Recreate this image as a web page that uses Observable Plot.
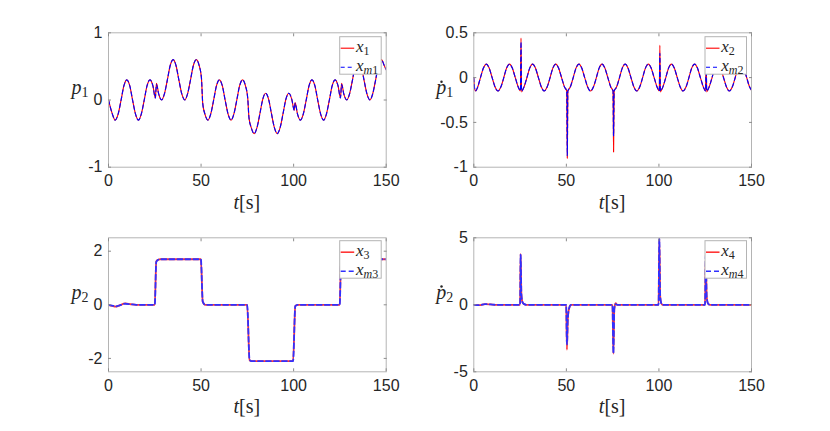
<!DOCTYPE html>
<html>
<head>
<meta charset="utf-8">
<script src="https://cdn.jsdelivr.net/npm/d3@7"></script>
<script src="https://cdn.jsdelivr.net/npm/@observablehq/plot@0.6"></script>
<style>
  html, body { margin: 0; padding: 0; background: #fff; }
  #wrap { position: relative; width: 830px; height: 431px; background: #fff; overflow: hidden; }
</style>
</head>
<body>
<div id="wrap"></div>
<script>
// ---------------- data ----------------
const xTicks = [0, 50, 100, 150];

// panel 1: p1
const t1 = [0,2.1,3.6,5.2,6.8,8.3,9.9,11.5,13.0,14.6,16.2,17.7,19.3,20.8,22.4,24.0,25.3,25.9,27.1,28.7,30.2,31.8,33.3,34.9,36.5,38.0,39.6,41.2,42.7,44.3,45.8,47.4,49.0,50.2,50.9,52.1,53.7,55.2,56.8,58.3,59.9,61.5,63.0,64.6,66.2,67.7,69.3,70.8,72.4,74.0,75.2,75.9,77.1,78.7,80.2,81.8,83.3,84.9,86.5,88.0,89.6,91.2,92.7,94.3,95.8,97.4,99.0,100.3,100.8,102.1,103.7,105.2,106.8,108.3,109.9,111.5,113.0,114.6,116.2,117.7,119.3,120.8,122.4,124.0,125.3,125.9,127.1,128.7,130.2,131.8,133.3,134.9,136.5,138.0,139.6,141.2,142.7,144.3,145.8,147.4,149.0,150.0];
const x1 = [0,-0.21,-0.30,-0.21,0,0.21,0.30,0.21,0,-0.21,-0.30,-0.21,0,0.21,0.30,0.21,0.03,0.25,0.09,0.00,0.09,0.30,0.51,0.60,0.51,0.30,0.09,0.00,0.09,0.30,0.51,0.60,0.51,0.33,-0.05,-0.21,-0.30,-0.21,0,0.21,0.30,0.21,0,-0.21,-0.30,-0.21,0,0.21,0.30,0.21,0.03,-0.27,-0.41,-0.50,-0.41,-0.20,0.01,0.10,0.01,-0.20,-0.41,-0.50,-0.41,-0.20,0.01,0.10,0.01,-0.15,-0.04,-0.21,-0.30,-0.21,0,0.21,0.30,0.21,0,-0.21,-0.30,-0.21,0,0.21,0.30,0.21,0.03,0.25,0.09,0.00,0.09,0.30,0.51,0.60,0.51,0.30,0.09,0.00,0.09,0.30,0.51,0.60,0.51,0.45];
const xm1 = [0,-0.21,-0.30,-0.21,0,0.21,0.30,0.21,0,-0.21,-0.30,-0.21,0,0.21,0.30,0.21,0.03,0.23,0.09,0.00,0.09,0.30,0.51,0.60,0.51,0.30,0.09,0.00,0.09,0.30,0.51,0.60,0.51,0.33,-0.05,-0.21,-0.30,-0.21,0,0.21,0.30,0.21,0,-0.21,-0.30,-0.21,0,0.21,0.30,0.21,0.03,-0.27,-0.41,-0.50,-0.41,-0.20,0.01,0.10,0.01,-0.20,-0.41,-0.50,-0.41,-0.20,0.01,0.10,0.01,-0.15,-0.05,-0.21,-0.30,-0.21,0,0.21,0.30,0.21,0,-0.21,-0.30,-0.21,0,0.21,0.30,0.21,0.03,0.23,0.09,0.00,0.09,0.30,0.51,0.60,0.51,0.30,0.09,0.00,0.09,0.30,0.51,0.60,0.51,0.45];

// panel 2: p1 dot
const t2 = [0,0.5,1.0,2.1,3.6,5.2,6.8,8.3,9.9,11.5,13.0,14.6,16.2,17.7,19.3,20.8,22.4,24.0,25.2,25.5,25.8,26.3,27.1,28.7,30.2,31.8,33.3,34.9,36.5,38.0,39.6,41.2,42.7,44.3,45.8,47.4,49.0,50.2,50.5,50.8,52.1,53.7,55.2,56.8,58.3,59.9,61.5,63.0,64.6,66.2,67.7,69.3,70.8,72.4,74.0,75.2,75.5,75.8,77.1,78.7,80.2,81.8,83.3,84.9,86.5,88.0,89.6,91.2,92.7,94.3,95.8,97.4,99.0,100.2,100.5,100.8,101.3,102.1,103.7,105.2,106.8,108.3,109.9,111.5,113.0,114.6,116.2,117.7,119.3,120.8,122.4,124.0,125.2,125.5,125.8,126.3,127.1,128.7,130.2,131.8,133.3,134.9,136.5,138.0,139.6,141.2,142.7,144.3,145.8,147.4,149.0,150.0];
const x2 = [0,-0.13,-0.148,-0.106,0,0.106,0.15,0.106,0,-0.106,-0.15,-0.106,0,0.106,0.15,0.106,0,-0.106,-0.148,0.44,-0.16,-0.14,-0.106,0,0.106,0.15,0.106,0,-0.106,-0.15,-0.106,0,0.106,0.15,0.106,0,-0.106,-0.148,-0.90,-0.15,-0.106,0,0.106,0.15,0.106,0,-0.106,-0.15,-0.106,0,0.106,0.15,0.106,0,-0.106,-0.148,-0.83,-0.15,-0.106,0,0.106,0.15,0.106,0,-0.106,-0.15,-0.106,0,0.106,0.15,0.106,0,-0.106,-0.148,0.36,-0.16,-0.14,-0.106,0,0.106,0.15,0.106,0,-0.106,-0.15,-0.106,0,0.106,0.15,0.106,0,-0.106,-0.148,0.30,-0.16,-0.14,-0.106,0,0.106,0.15,0.106,0,-0.106,-0.15,-0.106,0,0.106,0.15,0.106,0,-0.106,-0.14];
const xm2 = [0,-0.13,-0.148,-0.106,0,0.106,0.15,0.106,0,-0.106,-0.15,-0.106,0,0.106,0.15,0.106,0,-0.106,-0.148,0.40,-0.15,-0.14,-0.106,0,0.106,0.15,0.106,0,-0.106,-0.15,-0.106,0,0.106,0.15,0.106,0,-0.106,-0.148,-0.87,-0.15,-0.106,0,0.106,0.15,0.106,0,-0.106,-0.15,-0.106,0,0.106,0.15,0.106,0,-0.106,-0.148,-0.65,-0.15,-0.106,0,0.106,0.15,0.106,0,-0.106,-0.15,-0.106,0,0.106,0.15,0.106,0,-0.106,-0.148,0.27,-0.15,-0.14,-0.106,0,0.106,0.15,0.106,0,-0.106,-0.15,-0.106,0,0.106,0.15,0.106,0,-0.106,-0.148,0.25,-0.15,-0.14,-0.106,0,0.106,0.15,0.106,0,-0.106,-0.15,-0.106,0,0.106,0.15,0.106,0,-0.106,-0.14];

// panel 3: p2
const t3 = [0,2.0,3.8,6.0,9.0,12.0,15.0,25.0,25.8,26.8,28.0,49.9,50.9,52.3,74.9,76.2,77.2,99.7,100.9,102.0,124.9,125.6,126.6,150];
const x3 = [0,-0.04,-0.07,-0.02,0.05,0.02,0,0,1.62,1.68,1.70,1.70,0.12,0,0,-2.07,-2.10,-2.10,-0.05,0,0,1.65,1.70,1.70];
const xm3 = [0,-0.03,-0.06,-0.02,0.04,0.02,0,0,1.60,1.68,1.70,1.70,0.12,0,0,-2.06,-2.10,-2.10,-0.05,0,0,1.64,1.70,1.70];

// panel 4: p2 dot
const t4 = [0,3,6,9,12,25.0,25.3,25.7,26.3,27.2,28.5,49.9,50.3,50.8,51.5,52.5,74.9,75.4,75.9,76.6,77.5,99.8,100.2,100.7,101.3,102.0,124.9,125.3,125.8,126.5,127.5,150];
const x4 = [0,-0.03,0.05,0.03,0,0,3.80,0.8,0.2,0.05,0,0,-3.35,-1.0,-0.25,0,0,-3.65,-0.3,0.12,0,0,4.93,0.6,0.1,0,0,3.72,0.6,0.1,0,0];
const xm4 = [0,-0.03,0.05,0.03,0,0,3.75,0.8,0.2,0.05,0,0,-2.95,-1.0,-0.25,0,0,-3.62,-0.3,0.05,0,0,4.90,0.6,0.1,0,0,3.70,0.6,0.1,0,0];

// legend labels & axis labels
const legendA = ["1", "2", "3", "4"];
const legendB = ["m1", "m2", "m3", "m4"];
const yLabelSub = ["1", "1", "2", "2"];
const yLabelDot = [false, true, false, true];

// ---------------- layout ----------------
const wrap = document.getElementById("wrap");
const RED = "#ff0000", BLUE = "#0000ff";

const panels = [
  {t: t1, a: x1, b: xm1, yDomain: [-1, 1], yTicks: [-1, 0, 1],
   left: 0, top: 0, w: 415, h: 215, mL: 108, mR: 29.3, mT: 32.3, mB: 48.3, thick: false},
  {t: t2, a: x2, b: xm2, yDomain: [-1, 0.5], yTicks: [-1, -0.5, 0, 0.5],
   left: 415, top: 0, w: 415, h: 215, mL: 58.3, mR: 79, mT: 32.3, mB: 48.3, thick: false},
  {t: t3, a: x3, b: xm3, yDomain: [-2.5, 2.5], yTicks: [-2, 0, 2],
   left: 0, top: 215, w: 415, h: 216, mL: 108, mR: 29.3, mT: 22.3, mB: 59.7, thick: true},
  {t: t4, a: x4, b: xm4, yDomain: [-5, 5], yTicks: [-5, 0, 5],
   left: 415, top: 215, w: 415, h: 216, mL: 58.3, mR: 79, mT: 22.3, mB: 59.7, thick: true}
];

const FRAME = "#b4b4b4", TICK = "#8c8c8c", TXT = "#262626";

panels.forEach((p) => {
  const data = p.t.map((t, i) => ({t, a: p.a[i], b: p.b[i]}));
  const sw = p.thick ? 1.8 : 1.15;
  const svg = Plot.plot({
    width: p.w, height: p.h,
    marginLeft: p.mL, marginRight: p.mR, marginTop: p.mT, marginBottom: p.mB,
    style: {fontFamily: "'Liberation Sans', Arial, Helvetica, sans-serif", fontSize: "16px", color: TXT, background: "transparent", overflow: "visible"},
    x: {domain: [0, 150]},
    y: {domain: p.yDomain},
    marks: [
      Plot.line(data, {x: "t", y: "a", stroke: p.thick ? "#ff3535" : RED, strokeWidth: sw, curve: "monotone-x", clip: true}),
      Plot.line(data, {x: "t", y: "b", stroke: p.thick ? "#3030ff" : BLUE, strokeWidth: sw, strokeDasharray: p.thick ? "5,3" : "4,3", curve: "monotone-x", clip: true}),
      Plot.frame({stroke: FRAME, strokeWidth: 1}),
      Plot.axisX(xTicks, {anchor: "bottom", tickSize: 3, dy: -3, fill: "none", stroke: TICK, label: null}),
      Plot.axisX(xTicks, {anchor: "top", tickSize: 3, dy: 3, fill: "none", stroke: TICK, label: null}),
      Plot.axisY(p.yTicks, {anchor: "left", tickSize: 3, dx: 3, fill: "none", stroke: TICK, label: null}),
      Plot.axisY(p.yTicks, {anchor: "right", tickSize: 3, dx: -3, fill: "none", stroke: TICK, label: null}),
      Plot.axisX(xTicks, {anchor: "bottom", tickSize: 0, tickPadding: 7.5, label: null, fontSize: 16, fill: TXT, tickFormat: (d) => String(d)}),
      Plot.axisY(p.yTicks, {anchor: "left", tickSize: 0, tickPadding: 6, label: null, fontSize: 16, fill: TXT, tickFormat: (d) => String(d)})
    ]
  });
  svg.style.position = "absolute";
  svg.style.left = p.left + "px";
  svg.style.top = p.top + "px";
  wrap.appendChild(svg);
});

// ---------------- overlay: axis titles and legends ----------------
const ov = d3.select(wrap).append("svg")
  .attr("width", 830).attr("height", 431)
  .style("position", "absolute").style("left", "0px").style("top", "0px");

const SERIF = "'Liberation Serif', 'Times New Roman', serif";

panels.forEach((p, i) => {
  const fx0 = p.left + p.mL, fx1 = p.left + p.w - p.mR;
  const fy0 = p.top + p.mT, fy1 = p.top + p.h - p.mB;
  const cx = (fx0 + fx1) / 2, cy = (fy0 + fy1) / 2;

  // x label  t[s]
  const xl = ov.append("text").attr("x", cx).attr("y", fy1 + 42)
    .attr("text-anchor", "middle").attr("font-family", SERIF).attr("font-size", 20).attr("fill", TXT);
  xl.append("tspan").attr("font-style", "italic").text("t");
  xl.append("tspan").text("[s]");

  // y label  p_i  /  p-dot_i
  const lx = fx0 - (i % 2 === 0 ? 36.5 : 37), ly = cy - 5.5;
  const yl = ov.append("text").attr("x", lx).attr("y", ly)
    .attr("font-family", SERIF).attr("font-size", 20).attr("fill", TXT);
  yl.append("tspan").attr("font-style", "italic").text("p");
  yl.append("tspan").attr("font-size", 14).attr("dy", 3).text(yLabelSub[i]);
  if (yLabelDot[i]) {
    ov.append("circle").attr("cx", lx + 5.2).attr("cy", ly - 12.2).attr("r", 1.25).attr("fill", TXT);
  }

  // legend
  const L = fx1 - 46, T = fy0 + (p.top === 0 ? 4.4 : 3.4), W = 41.5, H = 37.5;
  const g = ov.append("g");
  g.append("rect").attr("x", L).attr("y", T).attr("width", W).attr("height", H)
    .attr("fill", "#fff").attr("stroke", FRAME).attr("stroke-width", 1);
  const rows = [
    {y: T + 11.5, sub: legendA[i], color: p.thick ? "#ff3535" : RED, dash: null},
    {y: T + 30.5, sub: legendB[i], color: p.thick ? "#3030ff" : BLUE, dash: p.thick ? "5,3" : "4,3"}
  ];
  rows.forEach((r) => {
    g.append("line").attr("x1", L + 1).attr("x2", L + 14.5).attr("y1", r.y).attr("y2", r.y)
      .attr("stroke", r.color).attr("stroke-width", p.thick ? 1.6 : 1.1)
      .attr("stroke-dasharray", r.dash);
    const tx = g.append("text").attr("x", L + 16.3).attr("y", r.y + 3.8)
      .attr("font-family", SERIF).attr("font-size", 17).attr("fill", TXT);
    tx.append("tspan").attr("font-style", "italic").text("x");
    const s = r.sub;
    if (s.startsWith("m")) {
      tx.append("tspan").attr("font-size", 12).attr("dy", 3).attr("font-style", "italic").text("m");
      tx.append("tspan").attr("font-size", 12).text(s.slice(1));
    } else {
      tx.append("tspan").attr("font-size", 12).attr("dy", 3).text(s);
    }
  });
});
</script>
</body>
</html>
